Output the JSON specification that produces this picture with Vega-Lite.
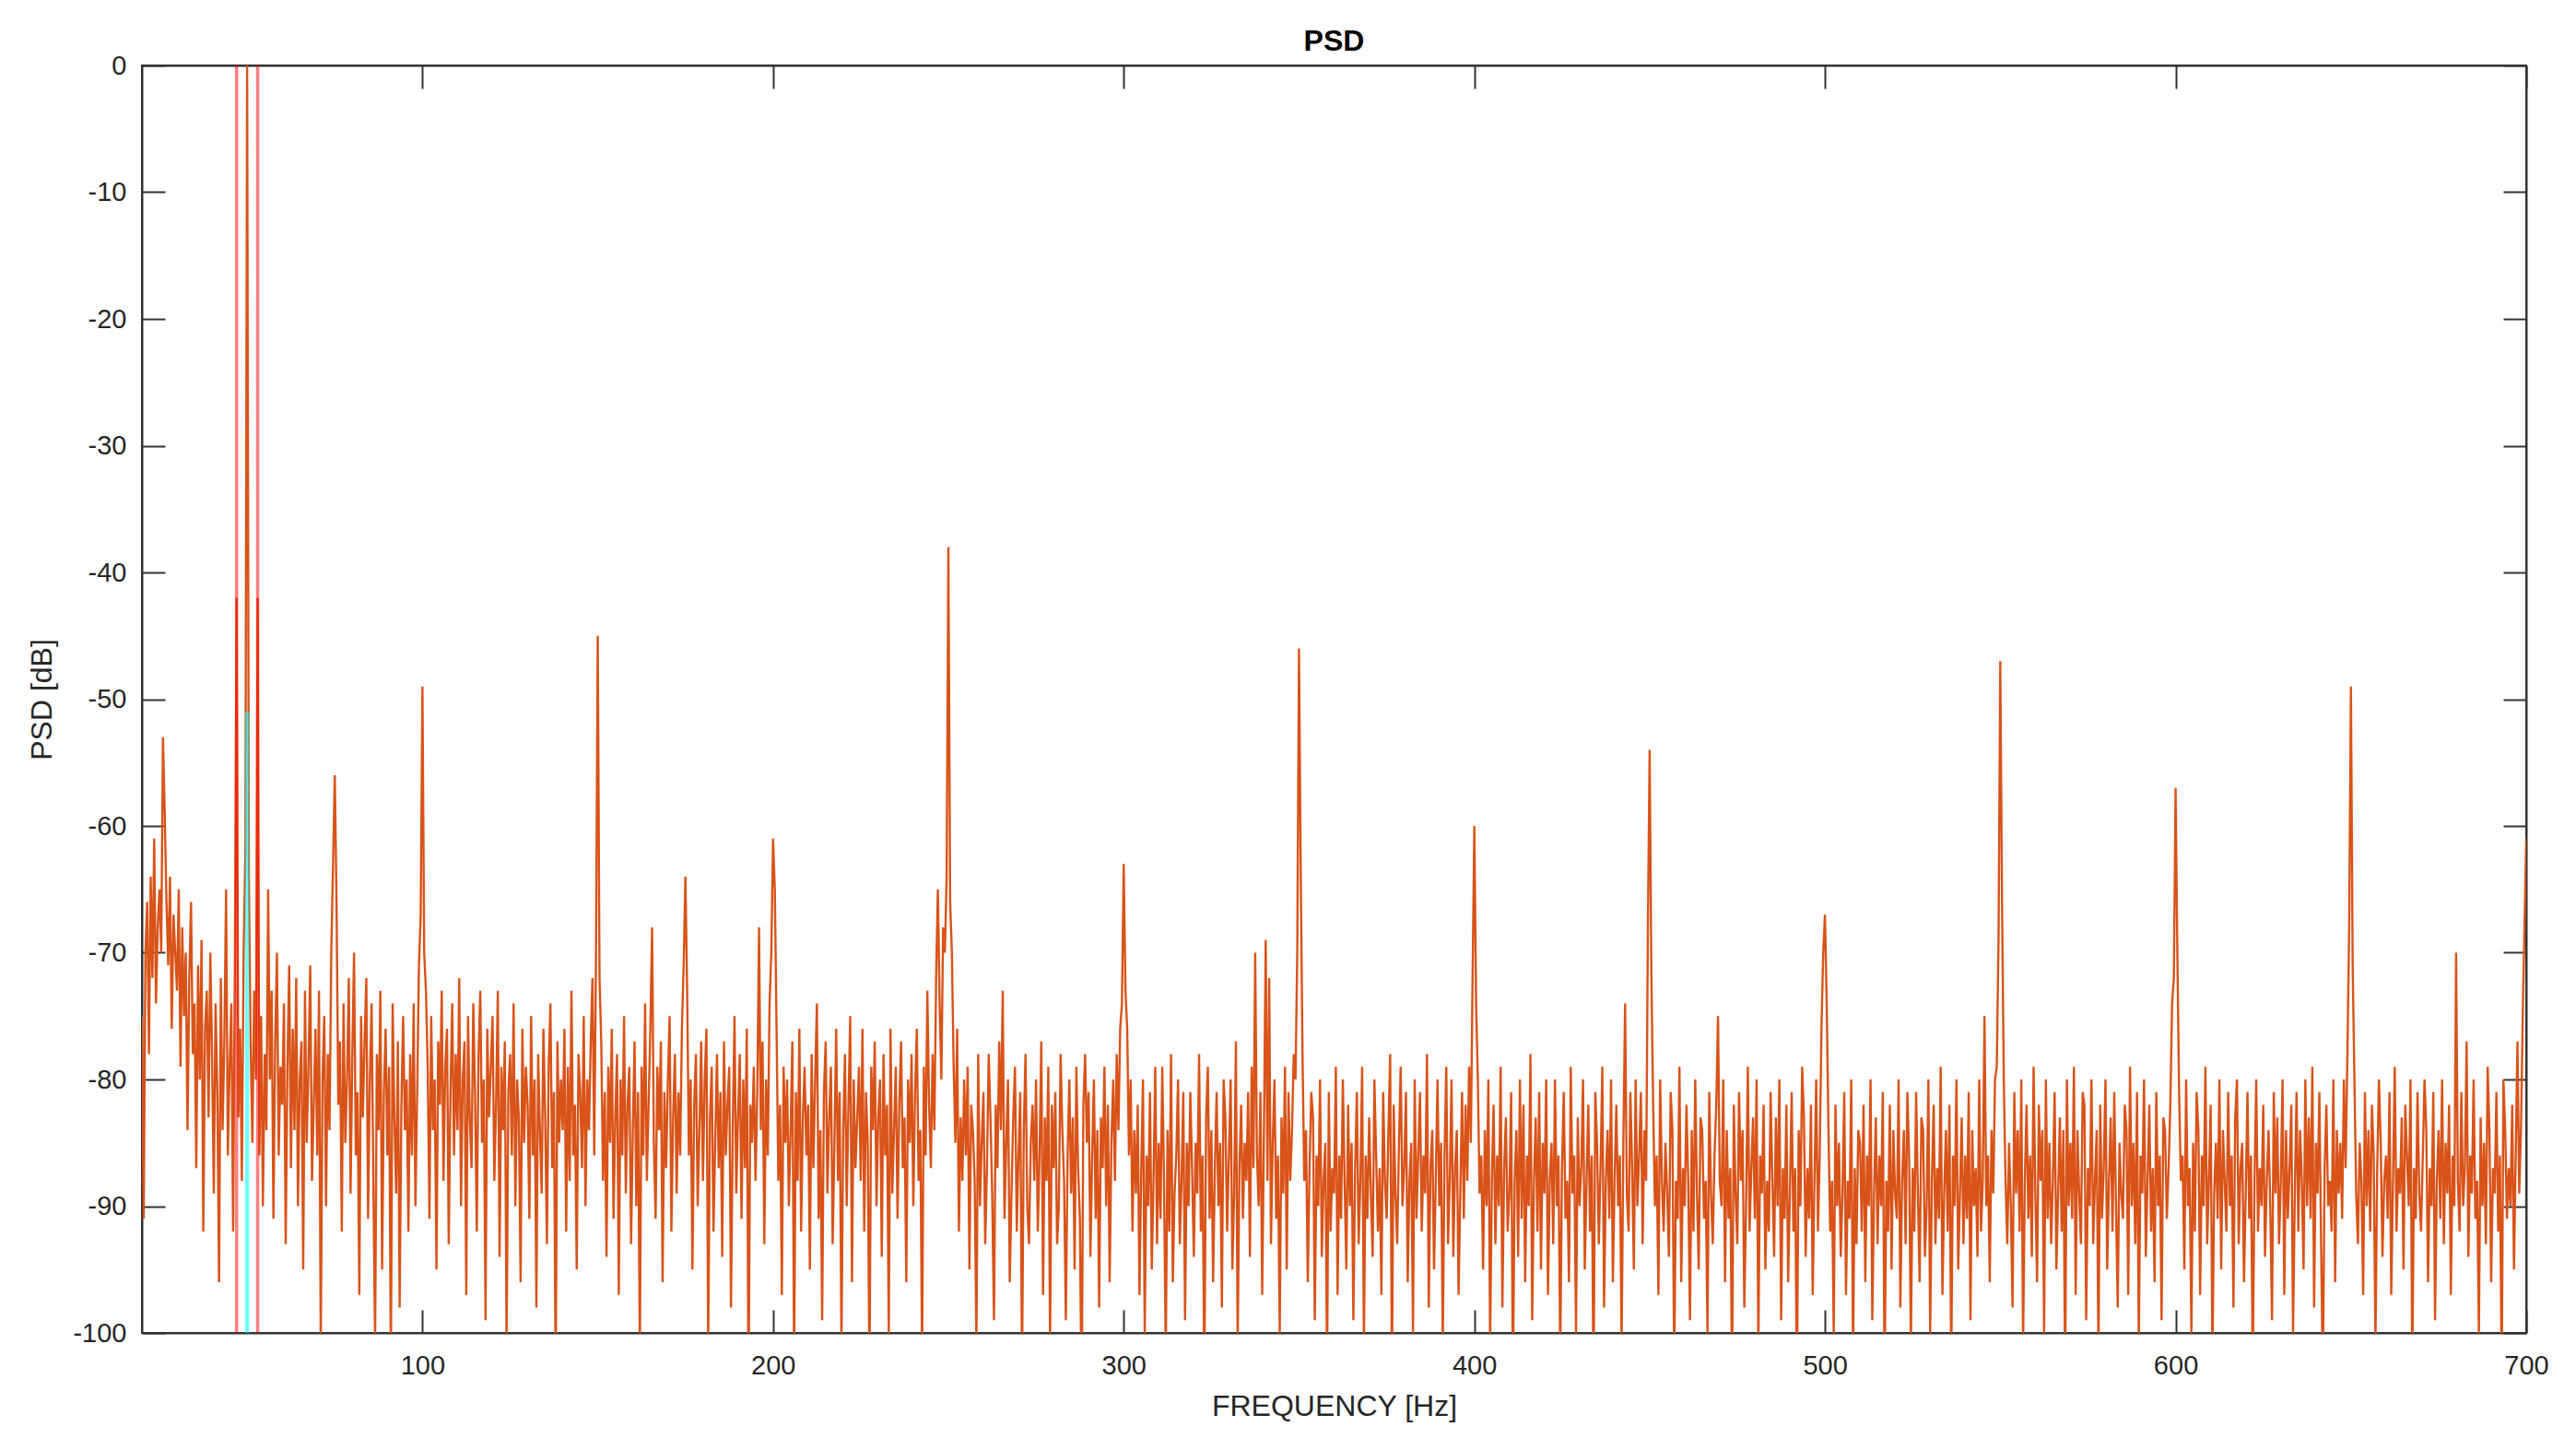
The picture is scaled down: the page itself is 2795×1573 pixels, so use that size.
{
"$schema":"https://vega.github.io/schema/vega-lite/v6.json",
"width":2587,"height":1375,
"autosize":{"type":"none"},
"padding":{"left":154,"top":71,"right":54,"bottom":127},
"background":"white",
"config":{"view":{"stroke":"#333333","strokeWidth":2},"font":"Liberation Sans",
"axis":{"grid":false,"domainColor":"#333333","domainWidth":2,"tickColor":"#333333","tickWidth":2,"tickSize":-25,"labelFont":"Liberation Sans","labelFontSize":29,"labelColor":"#262626","titleFont":"Liberation Sans","titleFontSize":32,"titleFontWeight":"normal","titleColor":"#262626","labelOverlap":false,"labelFlush":false}},
"title":{"text":"PSD","fontSize":32,"fontWeight":"bold","font":"Liberation Sans","color":"#000000","anchor":"middle","baseline":"alphabetic","offset":16,"dy":46},
"datasets":{
"refs":[{"f":47,"kind":"red","lo":-100,"hi":0},{"f":53,"kind":"red","lo":-100,"hi":0},{"f":50,"kind":"cyan","lo":-100,"hi":-51}],
"psd":[
{"f":20,"p":-75},{"f":20.5,"p":-91},{"f":21,"p":-70},{"f":21.5,"p":-66},{"f":22,"p":-78},{"f":22.5,"p":-64},{"f":23,"p":-72},{"f":23.5,"p":-61},{"f":24,"p":-74},{"f":24.5,"p":-68},
{"f":25,"p":-65},{"f":25.5,"p":-70},{"f":26,"p":-53},{"f":26.5,"p":-59},{"f":27,"p":-66},{"f":27.5,"p":-71},{"f":28,"p":-64},{"f":28.5,"p":-76},{"f":29,"p":-67},{"f":29.5,"p":-70},
{"f":30,"p":-73},{"f":30.5,"p":-65},{"f":31,"p":-79},{"f":31.5,"p":-68},{"f":32,"p":-75},{"f":32.5,"p":-70},{"f":33,"p":-84},{"f":33.5,"p":-72},{"f":34,"p":-66},{"f":34.5,"p":-78},
{"f":35,"p":-74},{"f":35.5,"p":-87},{"f":36,"p":-71},{"f":36.5,"p":-80},{"f":37,"p":-69},{"f":37.5,"p":-92},{"f":38,"p":-76},{"f":38.5,"p":-73},{"f":39,"p":-83},{"f":39.5,"p":-70},
{"f":40,"p":-78},{"f":40.5,"p":-89},{"f":41,"p":-74},{"f":41.5,"p":-81},{"f":42,"p":-96},{"f":42.5,"p":-72},{"f":43,"p":-84},{"f":43.5,"p":-77},{"f":44,"p":-65},{"f":44.5,"p":-86},
{"f":45,"p":-79},{"f":45.5,"p":-74},{"f":46,"p":-92},{"f":46.5,"p":-71},{"f":47,"p":-42},{"f":47.5,"p":-83},{"f":48,"p":-76},{"f":48.5,"p":-88},{"f":49,"p":-70},{"f":49.5,"p":-62},
{"f":50,"p":0},{"f":50.5,"p":-64},{"f":51,"p":-77},{"f":51.5,"p":-85},{"f":52,"p":-73},{"f":52.5,"p":-80},{"f":53,"p":-42},{"f":53.5,"p":-86},{"f":54,"p":-75},{"f":54.5,"p":-90},
{"f":55,"p":-78},{"f":55.5,"p":-84},{"f":56,"p":-65},{"f":56.5,"p":-80},{"f":57,"p":-73},{"f":57.5,"p":-91},{"f":58,"p":-77},{"f":58.5,"p":-70},{"f":59,"p":-86},{"f":59.5,"p":-79},
{"f":60,"p":-82},{"f":60.5,"p":-74},{"f":61,"p":-93},{"f":61.5,"p":-79},{"f":62,"p":-71},{"f":62.5,"p":-87},{"f":63,"p":-76},{"f":63.5,"p":-84},{"f":64,"p":-72},{"f":64.5,"p":-90},
{"f":65,"p":-80},{"f":65.5,"p":-77},{"f":66,"p":-95},{"f":66.5,"p":-73},{"f":67,"p":-85},{"f":67.5,"p":-79},{"f":68,"p":-71},{"f":68.5,"p":-88},{"f":69,"p":-82},{"f":69.5,"p":-76},
{"f":70,"p":-86},{"f":70.5,"p":-73},{"f":71,"p":-101},{"f":71.5,"p":-80},{"f":72,"p":-75},{"f":72.5,"p":-90},{"f":73,"p":-78},{"f":73.5,"p":-84},{"f":74,"p":-70},{"f":74.5,"p":-63},
{"f":75,"p":-56},{"f":75.5,"p":-66},{"f":76,"p":-82},{"f":76.5,"p":-77},{"f":77,"p":-92},{"f":77.5,"p":-74},{"f":78,"p":-85},{"f":78.5,"p":-80},{"f":79,"p":-72},{"f":79.5,"p":-89},
{"f":80,"p":-78},{"f":80.5,"p":-70},{"f":81,"p":-86},{"f":81.5,"p":-81},{"f":82,"p":-97},{"f":82.5,"p":-75},{"f":83,"p":-83},{"f":83.5,"p":-77},{"f":84,"p":-72},{"f":84.5,"p":-91},
{"f":85,"p":-80},{"f":85.5,"p":-74},{"f":86,"p":-88},{"f":86.5,"p":-101},{"f":87,"p":-78},{"f":87.5,"p":-84},{"f":88,"p":-73},{"f":88.5,"p":-95},{"f":89,"p":-81},{"f":89.5,"p":-76},
{"f":90,"p":-86},{"f":90.5,"p":-79},{"f":91,"p":-103},{"f":91.5,"p":-74},{"f":92,"p":-83},{"f":92.5,"p":-89},{"f":93,"p":-77},{"f":93.5,"p":-98},{"f":94,"p":-82},{"f":94.5,"p":-75},
{"f":95,"p":-84},{"f":95.5,"p":-80},{"f":96,"p":-92},{"f":96.5,"p":-78},{"f":97,"p":-86},{"f":97.5,"p":-74},{"f":98,"p":-90},{"f":98.5,"p":-81},{"f":99,"p":-71},{"f":99.5,"p":-67},
{"f":100,"p":-49},{"f":100.5,"p":-70},{"f":101,"p":-73},{"f":101.5,"p":-79},{"f":102,"p":-91},{"f":102.5,"p":-75},{"f":103,"p":-84},{"f":103.5,"p":-80},{"f":104,"p":-95},{"f":104.5,"p":-77},
{"f":105,"p":-82},{"f":105.5,"p":-73},{"f":106,"p":-88},{"f":106.5,"p":-79},{"f":107,"p":-76},{"f":107.5,"p":-93},{"f":108,"p":-81},{"f":108.5,"p":-74},{"f":109,"p":-86},{"f":109.5,"p":-78},
{"f":110,"p":-84},{"f":110.5,"p":-72},{"f":111,"p":-90},{"f":111.5,"p":-80},{"f":112,"p":-77},{"f":112.5,"p":-97},{"f":113,"p":-75},{"f":113.5,"p":-83},{"f":114,"p":-87},{"f":114.5,"p":-74},
{"f":115,"p":-81},{"f":115.5,"p":-92},{"f":116,"p":-78},{"f":116.5,"p":-73},{"f":117,"p":-85},{"f":117.5,"p":-80},{"f":118,"p":-99},{"f":118.5,"p":-76},{"f":119,"p":-83},{"f":119.5,"p":-79},
{"f":120,"p":-75},{"f":120.5,"p":-88},{"f":121,"p":-82},{"f":121.5,"p":-73},{"f":122,"p":-94},{"f":122.5,"p":-79},{"f":123,"p":-84},{"f":123.5,"p":-77},{"f":124,"p":-101},{"f":124.5,"p":-81},
{"f":125,"p":-78},{"f":125.5,"p":-86},{"f":126,"p":-74},{"f":126.5,"p":-90},{"f":127,"p":-80},{"f":127.5,"p":-83},{"f":128,"p":-96},{"f":128.5,"p":-76},{"f":129,"p":-85},{"f":129.5,"p":-79},
{"f":130,"p":-82},{"f":130.5,"p":-91},{"f":131,"p":-75},{"f":131.5,"p":-86},{"f":132,"p":-80},{"f":132.5,"p":-98},{"f":133,"p":-78},{"f":133.5,"p":-84},{"f":134,"p":-89},{"f":134.5,"p":-76},
{"f":135,"p":-83},{"f":135.5,"p":-93},{"f":136,"p":-79},{"f":136.5,"p":-74},{"f":137,"p":-87},{"f":137.5,"p":-81},{"f":138,"p":-104},{"f":138.5,"p":-77},{"f":139,"p":-85},{"f":139.5,"p":-80},
{"f":140,"p":-84},{"f":140.5,"p":-76},{"f":141,"p":-92},{"f":141.5,"p":-79},{"f":142,"p":-88},{"f":142.5,"p":-73},{"f":143,"p":-86},{"f":143.5,"p":-82},{"f":144,"p":-95},{"f":144.5,"p":-78},
{"f":145,"p":-81},{"f":145.5,"p":-87},{"f":146,"p":-75},{"f":146.5,"p":-90},{"f":147,"p":-80},{"f":147.5,"p":-84},{"f":148,"p":-77},{"f":148.5,"p":-72},{"f":149,"p":-86},{"f":149.5,"p":-70},
{"f":150,"p":-45},{"f":150.5,"p":-72},{"f":151,"p":-77},{"f":151.5,"p":-88},{"f":152,"p":-81},{"f":152.5,"p":-94},{"f":153,"p":-79},{"f":153.5,"p":-85},{"f":154,"p":-76},{"f":154.5,"p":-91},
{"f":155,"p":-83},{"f":155.5,"p":-78},{"f":156,"p":-97},{"f":156.5,"p":-80},{"f":157,"p":-86},{"f":157.5,"p":-75},{"f":158,"p":-89},{"f":158.5,"p":-82},{"f":159,"p":-79},{"f":159.5,"p":-93},
{"f":160,"p":-84},{"f":160.5,"p":-77},{"f":161,"p":-90},{"f":161.5,"p":-81},{"f":162,"p":-102},{"f":162.5,"p":-79},{"f":163,"p":-86},{"f":163.5,"p":-74},{"f":164,"p":-88},{"f":164.5,"p":-82},
{"f":165,"p":-76},{"f":165.5,"p":-68},{"f":166,"p":-85},{"f":166.5,"p":-91},{"f":167,"p":-79},{"f":167.5,"p":-84},{"f":168,"p":-77},{"f":168.5,"p":-96},{"f":169,"p":-81},{"f":169.5,"p":-87},
{"f":170,"p":-80},{"f":170.5,"p":-75},{"f":171,"p":-92},{"f":171.5,"p":-83},{"f":172,"p":-78},{"f":172.5,"p":-89},{"f":173,"p":-81},{"f":173.5,"p":-86},{"f":174,"p":-76},{"f":174.5,"p":-71},
{"f":175,"p":-64},{"f":175.5,"p":-73},{"f":176,"p":-86},{"f":176.5,"p":-80},{"f":177,"p":-95},{"f":177.5,"p":-82},{"f":178,"p":-78},{"f":178.5,"p":-90},{"f":179,"p":-84},{"f":179.5,"p":-77},
{"f":180,"p":-88},{"f":180.5,"p":-80},{"f":181,"p":-76},{"f":181.5,"p":-101},{"f":182,"p":-83},{"f":182.5,"p":-79},{"f":183,"p":-92},{"f":183.5,"p":-85},{"f":184,"p":-78},{"f":184.5,"p":-87},
{"f":185,"p":-81},{"f":185.5,"p":-94},{"f":186,"p":-77},{"f":186.5,"p":-86},{"f":187,"p":-82},{"f":187.5,"p":-79},{"f":188,"p":-98},{"f":188.5,"p":-84},{"f":189,"p":-75},{"f":189.5,"p":-89},
{"f":190,"p":-83},{"f":190.5,"p":-78},{"f":191,"p":-91},{"f":191.5,"p":-80},{"f":192,"p":-87},{"f":192.5,"p":-76},{"f":193,"p":-105},{"f":193.5,"p":-82},{"f":194,"p":-85},{"f":194.5,"p":-79},
{"f":195,"p":-88},{"f":195.5,"p":-81},{"f":196,"p":-68},{"f":196.5,"p":-84},{"f":197,"p":-77},{"f":197.5,"p":-93},{"f":198,"p":-80},{"f":198.5,"p":-86},{"f":199,"p":-74},{"f":199.5,"p":-70},
{"f":200,"p":-61},{"f":200.5,"p":-65},{"f":201,"p":-76},{"f":201.5,"p":-88},{"f":202,"p":-82},{"f":202.5,"p":-97},{"f":203,"p":-79},{"f":203.5,"p":-85},{"f":204,"p":-80},{"f":204.5,"p":-90},
{"f":205,"p":-84},{"f":205.5,"p":-77},{"f":206,"p":-103},{"f":206.5,"p":-81},{"f":207,"p":-88},{"f":207.5,"p":-76},{"f":208,"p":-92},{"f":208.5,"p":-83},{"f":209,"p":-79},{"f":209.5,"p":-86},
{"f":210,"p":-82},{"f":210.5,"p":-95},{"f":211,"p":-78},{"f":211.5,"p":-87},{"f":212,"p":-80},{"f":212.5,"p":-74},{"f":213,"p":-91},{"f":213.5,"p":-84},{"f":214,"p":-99},{"f":214.5,"p":-81},
{"f":215,"p":-77},{"f":215.5,"p":-89},{"f":216,"p":-83},{"f":216.5,"p":-79},{"f":217,"p":-93},{"f":217.5,"p":-85},{"f":218,"p":-76},{"f":218.5,"p":-88},{"f":219,"p":-81},{"f":219.5,"p":-101},
{"f":220,"p":-84},{"f":220.5,"p":-78},{"f":221,"p":-90},{"f":221.5,"p":-82},{"f":222,"p":-75},{"f":222.5,"p":-96},{"f":223,"p":-80},{"f":223.5,"p":-87},{"f":224,"p":-83},{"f":224.5,"p":-79},
{"f":225,"p":-88},{"f":225.5,"p":-76},{"f":226,"p":-92},{"f":226.5,"p":-81},{"f":227,"p":-85},{"f":227.5,"p":-104},{"f":228,"p":-79},{"f":228.5,"p":-84},{"f":229,"p":-77},{"f":229.5,"p":-90},
{"f":230,"p":-83},{"f":230.5,"p":-80},{"f":231,"p":-94},{"f":231.5,"p":-78},{"f":232,"p":-86},{"f":232.5,"p":-82},{"f":233,"p":-100},{"f":233.5,"p":-76},{"f":234,"p":-89},{"f":234.5,"p":-84},
{"f":235,"p":-79},{"f":235.5,"p":-91},{"f":236,"p":-82},{"f":236.5,"p":-77},{"f":237,"p":-87},{"f":237.5,"p":-83},{"f":238,"p":-96},{"f":238.5,"p":-80},{"f":239,"p":-85},{"f":239.5,"p":-78},
{"f":240,"p":-90},{"f":240.5,"p":-81},{"f":241,"p":-76},{"f":241.5,"p":-88},{"f":242,"p":-84},{"f":242.5,"p":-102},{"f":243,"p":-79},{"f":243.5,"p":-86},{"f":244,"p":-73},{"f":244.5,"p":-82},
{"f":245,"p":-87},{"f":245.5,"p":-78},{"f":246,"p":-84},{"f":246.5,"p":-72},{"f":247,"p":-65},{"f":247.5,"p":-74},{"f":248,"p":-80},{"f":248.5,"p":-68},{"f":249,"p":-70},{"f":249.5,"p":-64},
{"f":250,"p":-38},{"f":250.5,"p":-66},{"f":251,"p":-70},{"f":251.5,"p":-79},{"f":252,"p":-85},{"f":252.5,"p":-76},{"f":253,"p":-92},{"f":253.5,"p":-83},{"f":254,"p":-88},{"f":254.5,"p":-80},
{"f":255,"p":-86},{"f":255.5,"p":-79},{"f":256,"p":-95},{"f":256.5,"p":-82},{"f":257,"p":-84},{"f":257.5,"p":-88},{"f":258,"p":-101},{"f":258.5,"p":-78},{"f":259,"p":-90},{"f":259.5,"p":-85},
{"f":260,"p":-81},{"f":260.5,"p":-93},{"f":261,"p":-87},{"f":261.5,"p":-78},{"f":262,"p":-83},{"f":262.5,"p":-89},{"f":263,"p":-99},{"f":263.5,"p":-82},{"f":264,"p":-87},{"f":264.5,"p":-77},
{"f":265,"p":-84},{"f":265.5,"p":-73},{"f":266,"p":-91},{"f":266.5,"p":-85},{"f":267,"p":-80},{"f":267.5,"p":-96},{"f":268,"p":-89},{"f":268.5,"p":-83},{"f":269,"p":-79},{"f":269.5,"p":-92},
{"f":270,"p":-86},{"f":270.5,"p":-81},{"f":271,"p":-103},{"f":271.5,"p":-84},{"f":272,"p":-78},{"f":272.5,"p":-90},{"f":273,"p":-93},{"f":273.5,"p":-85},{"f":274,"p":-82},{"f":274.5,"p":-88},
{"f":275,"p":-80},{"f":275.5,"p":-92},{"f":276,"p":-86},{"f":276.5,"p":-77},{"f":277,"p":-97},{"f":277.5,"p":-83},{"f":278,"p":-88},{"f":278.5,"p":-79},{"f":279,"p":-101},{"f":279.5,"p":-82},
{"f":280,"p":-87},{"f":280.5,"p":-81},{"f":281,"p":-93},{"f":281.5,"p":-90},{"f":282,"p":-78},{"f":282.5,"p":-84},{"f":283,"p":-88},{"f":283.5,"p":-99},{"f":284,"p":-86},{"f":284.5,"p":-80},
{"f":285,"p":-89},{"f":285.5,"p":-83},{"f":286,"p":-95},{"f":286.5,"p":-79},{"f":287,"p":-87},{"f":287.5,"p":-91},{"f":288,"p":-106},{"f":288.5,"p":-82},{"f":289,"p":-78},{"f":289.5,"p":-85},
{"f":290,"p":-81},{"f":290.5,"p":-94},{"f":291,"p":-86},{"f":291.5,"p":-80},{"f":292,"p":-91},{"f":292.5,"p":-84},{"f":293,"p":-98},{"f":293.5,"p":-83},{"f":294,"p":-87},{"f":294.5,"p":-79},
{"f":295,"p":-90},{"f":295.5,"p":-82},{"f":296,"p":-96},{"f":296.5,"p":-85},{"f":297,"p":-80},{"f":297.5,"p":-88},{"f":298,"p":-78},{"f":298.5,"p":-84},{"f":299,"p":-76},{"f":299.5,"p":-74},
{"f":300,"p":-63},{"f":300.5,"p":-73},{"f":301,"p":-76},{"f":301.5,"p":-86},{"f":302,"p":-80},{"f":302.5,"p":-92},{"f":303,"p":-84},{"f":303.5,"p":-89},{"f":304,"p":-82},{"f":304.5,"p":-97},
{"f":305,"p":-87},{"f":305.5,"p":-80},{"f":306,"p":-100},{"f":306.5,"p":-86},{"f":307,"p":-90},{"f":307.5,"p":-81},{"f":308,"p":-95},{"f":308.5,"p":-88},{"f":309,"p":-79},{"f":309.5,"p":-93},
{"f":310,"p":-85},{"f":310.5,"p":-91},{"f":311,"p":-79},{"f":311.5,"p":-88},{"f":312,"p":-102},{"f":312.5,"p":-84},{"f":313,"p":-92},{"f":313.5,"p":-78},{"f":314,"p":-96},{"f":314.5,"p":-89},
{"f":315,"p":-86},{"f":315.5,"p":-80},{"f":316,"p":-93},{"f":316.5,"p":-88},{"f":317,"p":-81},{"f":317.5,"p":-99},{"f":318,"p":-85},{"f":318.5,"p":-90},{"f":319,"p":-81},{"f":319.5,"p":-87},
{"f":320,"p":-94},{"f":320.5,"p":-85},{"f":321,"p":-89},{"f":321.5,"p":-78},{"f":322,"p":-92},{"f":322.5,"p":-86},{"f":323,"p":-104},{"f":323.5,"p":-83},{"f":324,"p":-79},{"f":324.5,"p":-91},
{"f":325,"p":-84},{"f":325.5,"p":-96},{"f":326,"p":-87},{"f":326.5,"p":-81},{"f":327,"p":-90},{"f":327.5,"p":-85},{"f":328,"p":-98},{"f":328.5,"p":-80},{"f":329,"p":-83},{"f":329.5,"p":-92},
{"f":330,"p":-86},{"f":330.5,"p":-80},{"f":331,"p":-95},{"f":331.5,"p":-89},{"f":332,"p":-77},{"f":332.5,"p":-101},{"f":333,"p":-87},{"f":333.5,"p":-82},{"f":334,"p":-91},{"f":334.5,"p":-85},
{"f":335,"p":-88},{"f":335.5,"p":-81},{"f":336,"p":-94},{"f":336.5,"p":-79},{"f":337,"p":-87},{"f":337.5,"p":-70},{"f":338,"p":-86},{"f":338.5,"p":-90},{"f":339,"p":-81},{"f":339.5,"p":-97},
{"f":340,"p":-84},{"f":340.5,"p":-69},{"f":341,"p":-88},{"f":341.5,"p":-72},{"f":342,"p":-93},{"f":342.5,"p":-85},{"f":343,"p":-80},{"f":343.5,"p":-91},{"f":344,"p":-86},{"f":344.5,"p":-100},
{"f":345,"p":-83},{"f":345.5,"p":-89},{"f":346,"p":-79},{"f":346.5,"p":-95},{"f":347,"p":-81},{"f":347.5,"p":-88},{"f":348,"p":-84},{"f":348.5,"p":-78},{"f":349,"p":-80},{"f":349.5,"p":-70},
{"f":350,"p":-46},{"f":350.5,"p":-64},{"f":351,"p":-78},{"f":351.5,"p":-88},{"f":352,"p":-84},{"f":352.5,"p":-96},{"f":353,"p":-87},{"f":353.5,"p":-81},{"f":354,"p":-83},{"f":354.5,"p":-99},
{"f":355,"p":-86},{"f":355.5,"p":-90},{"f":356,"p":-80},{"f":356.5,"p":-94},{"f":357,"p":-88},{"f":357.5,"p":-85},{"f":358,"p":-103},{"f":358.5,"p":-81},{"f":359,"p":-92},{"f":359.5,"p":-87},
{"f":360,"p":-89},{"f":360.5,"p":-79},{"f":361,"p":-97},{"f":361.5,"p":-86},{"f":362,"p":-91},{"f":362.5,"p":-80},{"f":363,"p":-88},{"f":363.5,"p":-95},{"f":364,"p":-82},{"f":364.5,"p":-90},
{"f":365,"p":-85},{"f":365.5,"p":-99},{"f":366,"p":-87},{"f":366.5,"p":-81},{"f":367,"p":-93},{"f":367.5,"p":-88},{"f":368,"p":-79},{"f":368.5,"p":-101},{"f":369,"p":-86},{"f":369.5,"p":-91},
{"f":370,"p":-83},{"f":370.5,"p":-89},{"f":371,"p":-94},{"f":371.5,"p":-80},{"f":372,"p":-86},{"f":372.5,"p":-92},{"f":373,"p":-87},{"f":373.5,"p":-97},{"f":374,"p":-81},{"f":374.5,"p":-88},
{"f":375,"p":-91},{"f":375.5,"p":-84},{"f":376,"p":-78},{"f":376.5,"p":-104},{"f":377,"p":-82},{"f":377.5,"p":-89},{"f":378,"p":-93},{"f":378.5,"p":-85},{"f":379,"p":-79},{"f":379.5,"p":-90},
{"f":380,"p":-87},{"f":380.5,"p":-81},{"f":381,"p":-96},{"f":381.5,"p":-88},{"f":382,"p":-85},{"f":382.5,"p":-100},{"f":383,"p":-80},{"f":383.5,"p":-91},{"f":384,"p":-86},{"f":384.5,"p":-81},
{"f":385,"p":-92},{"f":385.5,"p":-86},{"f":386,"p":-89},{"f":386.5,"p":-78},{"f":387,"p":-98},{"f":387.5,"p":-87},{"f":388,"p":-84},{"f":388.5,"p":-95},{"f":389,"p":-88},{"f":389.5,"p":-80},
{"f":390,"p":-90},{"f":390.5,"p":-85},{"f":391,"p":-101},{"f":391.5,"p":-86},{"f":392,"p":-79},{"f":392.5,"p":-93},{"f":393,"p":-88},{"f":393.5,"p":-80},{"f":394,"p":-94},{"f":394.5,"p":-87},
{"f":395,"p":-84},{"f":395.5,"p":-97},{"f":396,"p":-89},{"f":396.5,"p":-81},{"f":397,"p":-91},{"f":397.5,"p":-82},{"f":398,"p":-88},{"f":398.5,"p":-79},{"f":399,"p":-85},{"f":399.5,"p":-72},
{"f":400,"p":-60},{"f":400.5,"p":-74},{"f":401,"p":-80},{"f":401.5,"p":-89},{"f":402,"p":-86},{"f":402.5,"p":-95},{"f":403,"p":-84},{"f":403.5,"p":-90},{"f":404,"p":-80},{"f":404.5,"p":-101},
{"f":405,"p":-88},{"f":405.5,"p":-82},{"f":406,"p":-93},{"f":406.5,"p":-86},{"f":407,"p":-90},{"f":407.5,"p":-79},{"f":408,"p":-98},{"f":408.5,"p":-87},{"f":409,"p":-83},{"f":409.5,"p":-92},
{"f":410,"p":-89},{"f":410.5,"p":-81},{"f":411,"p":-104},{"f":411.5,"p":-88},{"f":412,"p":-84},{"f":412.5,"p":-94},{"f":413,"p":-80},{"f":413.5,"p":-91},{"f":414,"p":-82},{"f":414.5,"p":-96},
{"f":415,"p":-86},{"f":415.5,"p":-90},{"f":416,"p":-78},{"f":416.5,"p":-99},{"f":417,"p":-88},{"f":417.5,"p":-83},{"f":418,"p":-92},{"f":418.5,"p":-81},{"f":419,"p":-95},{"f":419.5,"p":-85},
{"f":420,"p":-89},{"f":420.5,"p":-80},{"f":421,"p":-97},{"f":421.5,"p":-88},{"f":422,"p":-85},{"f":422.5,"p":-93},{"f":423,"p":-80},{"f":423.5,"p":-90},{"f":424,"p":-86},{"f":424.5,"p":-102},
{"f":425,"p":-87},{"f":425.5,"p":-81},{"f":426,"p":-91},{"f":426.5,"p":-88},{"f":427,"p":-96},{"f":427.5,"p":-79},{"f":428,"p":-89},{"f":428.5,"p":-86},{"f":429,"p":-100},{"f":429.5,"p":-83},
{"f":430,"p":-90},{"f":430.5,"p":-87},{"f":431,"p":-80},{"f":431.5,"p":-95},{"f":432,"p":-88},{"f":432.5,"p":-82},{"f":433,"p":-92},{"f":433.5,"p":-86},{"f":434,"p":-105},{"f":434.5,"p":-81},
{"f":435,"p":-85},{"f":435.5,"p":-93},{"f":436,"p":-87},{"f":436.5,"p":-79},{"f":437,"p":-98},{"f":437.5,"p":-88},{"f":438,"p":-84},{"f":438.5,"p":-91},{"f":439,"p":-80},{"f":439.5,"p":-96},
{"f":440,"p":-88},{"f":440.5,"p":-82},{"f":441,"p":-90},{"f":441.5,"p":-86},{"f":442,"p":-101},{"f":442.5,"p":-85},{"f":443,"p":-74},{"f":443.5,"p":-89},{"f":444,"p":-92},{"f":444.5,"p":-81},
{"f":445,"p":-87},{"f":445.5,"p":-95},{"f":446,"p":-80},{"f":446.5,"p":-90},{"f":447,"p":-86},{"f":447.5,"p":-81},{"f":448,"p":-93},{"f":448.5,"p":-84},{"f":449,"p":-88},{"f":449.5,"p":-68},
{"f":450,"p":-54},{"f":450.5,"p":-72},{"f":451,"p":-82},{"f":451.5,"p":-90},{"f":452,"p":-86},{"f":452.5,"p":-97},{"f":453,"p":-80},{"f":453.5,"p":-88},{"f":454,"p":-92},{"f":454.5,"p":-85},
{"f":455,"p":-89},{"f":455.5,"p":-94},{"f":456,"p":-81},{"f":456.5,"p":-84},{"f":457,"p":-103},{"f":457.5,"p":-88},{"f":458,"p":-91},{"f":458.5,"p":-79},{"f":459,"p":-96},{"f":459.5,"p":-87},
{"f":460,"p":-90},{"f":460.5,"p":-82},{"f":461,"p":-88},{"f":461.5,"p":-99},{"f":462,"p":-84},{"f":462.5,"p":-92},{"f":463,"p":-80},{"f":463.5,"p":-89},{"f":464,"p":-95},{"f":464.5,"p":-83},
{"f":465,"p":-84},{"f":465.5,"p":-91},{"f":466,"p":-88},{"f":466.5,"p":-100},{"f":467,"p":-81},{"f":467.5,"p":-89},{"f":468,"p":-93},{"f":468.5,"p":-86},{"f":469,"p":-82},{"f":469.5,"p":-75},
{"f":470,"p":-88},{"f":470.5,"p":-90},{"f":471,"p":-80},{"f":471.5,"p":-96},{"f":472,"p":-84},{"f":472.5,"p":-91},{"f":473,"p":-87},{"f":473.5,"p":-104},{"f":474,"p":-82},{"f":474.5,"p":-89},
{"f":475,"p":-93},{"f":475.5,"p":-81},{"f":476,"p":-88},{"f":476.5,"p":-84},{"f":477,"p":-98},{"f":477.5,"p":-90},{"f":478,"p":-79},{"f":478.5,"p":-92},{"f":479,"p":-87},{"f":479.5,"p":-83},
{"f":480,"p":-91},{"f":480.5,"p":-80},{"f":481,"p":-101},{"f":481.5,"p":-86},{"f":482,"p":-89},{"f":482.5,"p":-82},{"f":483,"p":-95},{"f":483.5,"p":-88},{"f":484,"p":-92},{"f":484.5,"p":-81},
{"f":485,"p":-88},{"f":485.5,"p":-94},{"f":486,"p":-83},{"f":486.5,"p":-90},{"f":487,"p":-80},{"f":487.5,"p":-99},{"f":488,"p":-87},{"f":488.5,"p":-91},{"f":489,"p":-82},{"f":489.5,"p":-96},
{"f":490,"p":-89},{"f":490.5,"p":-81},{"f":491,"p":-92},{"f":491.5,"p":-87},{"f":492,"p":-105},{"f":492.5,"p":-84},{"f":493,"p":-90},{"f":493.5,"p":-79},{"f":494,"p":-83},{"f":494.5,"p":-94},
{"f":495,"p":-87},{"f":495.5,"p":-91},{"f":496,"p":-82},{"f":496.5,"p":-97},{"f":497,"p":-88},{"f":497.5,"p":-80},{"f":498,"p":-92},{"f":498.5,"p":-86},{"f":499,"p":-76},{"f":499.5,"p":-70},
{"f":500,"p":-67},{"f":500.5,"p":-74},{"f":501,"p":-84},{"f":501.5,"p":-92},{"f":502,"p":-88},{"f":502.5,"p":-100},{"f":503,"p":-82},{"f":503.5,"p":-90},{"f":504,"p":-85},{"f":504.5,"p":-94},
{"f":505,"p":-89},{"f":505.5,"p":-81},{"f":506,"p":-97},{"f":506.5,"p":-88},{"f":507,"p":-91},{"f":507.5,"p":-80},{"f":508,"p":-102},{"f":508.5,"p":-87},{"f":509,"p":-93},{"f":509.5,"p":-84},
{"f":510,"p":-85},{"f":510.5,"p":-92},{"f":511,"p":-82},{"f":511.5,"p":-96},{"f":512,"p":-86},{"f":512.5,"p":-90},{"f":513,"p":-80},{"f":513.5,"p":-99},{"f":514,"p":-89},{"f":514.5,"p":-83},
{"f":515,"p":-93},{"f":515.5,"p":-86},{"f":516,"p":-90},{"f":516.5,"p":-81},{"f":517,"p":-104},{"f":517.5,"p":-88},{"f":518,"p":-92},{"f":518.5,"p":-82},{"f":519,"p":-95},{"f":519.5,"p":-84},
{"f":520,"p":-89},{"f":520.5,"p":-91},{"f":521,"p":-80},{"f":521.5,"p":-98},{"f":522,"p":-88},{"f":522.5,"p":-84},{"f":523,"p":-93},{"f":523.5,"p":-81},{"f":524,"p":-86},{"f":524.5,"p":-101},
{"f":525,"p":-87},{"f":525.5,"p":-92},{"f":526,"p":-81},{"f":526.5,"p":-89},{"f":527,"p":-96},{"f":527.5,"p":-83},{"f":528,"p":-84},{"f":528.5,"p":-94},{"f":529,"p":-90},{"f":529.5,"p":-80},
{"f":530,"p":-100},{"f":530.5,"p":-88},{"f":531,"p":-82},{"f":531.5,"p":-93},{"f":532,"p":-87},{"f":532.5,"p":-91},{"f":533,"p":-79},{"f":533.5,"p":-97},{"f":534,"p":-89},{"f":534.5,"p":-84},
{"f":535,"p":-92},{"f":535.5,"p":-82},{"f":536,"p":-103},{"f":536.5,"p":-86},{"f":537,"p":-90},{"f":537.5,"p":-80},{"f":538,"p":-95},{"f":538.5,"p":-89},{"f":539,"p":-83},{"f":539.5,"p":-93},
{"f":540,"p":-86},{"f":540.5,"p":-91},{"f":541,"p":-81},{"f":541.5,"p":-99},{"f":542,"p":-84},{"f":542.5,"p":-90},{"f":543,"p":-87},{"f":543.5,"p":-94},{"f":544,"p":-80},{"f":544.5,"p":-92},
{"f":545,"p":-88},{"f":545.5,"p":-75},{"f":546,"p":-90},{"f":546.5,"p":-86},{"f":547,"p":-96},{"f":547.5,"p":-84},{"f":548,"p":-89},{"f":548.5,"p":-80},{"f":549,"p":-79},{"f":549.5,"p":-69},
{"f":550,"p":-47},{"f":550.5,"p":-66},{"f":551,"p":-80},{"f":551.5,"p":-88},{"f":552,"p":-93},{"f":552.5,"p":-85},{"f":553,"p":-90},{"f":553.5,"p":-98},{"f":554,"p":-81},{"f":554.5,"p":-89},
{"f":555,"p":-84},{"f":555.5,"p":-92},{"f":556,"p":-80},{"f":556.5,"p":-101},{"f":557,"p":-88},{"f":557.5,"p":-82},{"f":558,"p":-91},{"f":558.5,"p":-86},{"f":559,"p":-94},{"f":559.5,"p":-79},
{"f":560,"p":-89},{"f":560.5,"p":-96},{"f":561,"p":-82},{"f":561.5,"p":-88},{"f":562,"p":-84},{"f":562.5,"p":-100},{"f":563,"p":-80},{"f":563.5,"p":-91},{"f":564,"p":-85},{"f":564.5,"p":-93},
{"f":565,"p":-88},{"f":565.5,"p":-81},{"f":566,"p":-95},{"f":566.5,"p":-89},{"f":567,"p":-83},{"f":567.5,"p":-92},{"f":568,"p":-84},{"f":568.5,"p":-104},{"f":569,"p":-80},{"f":569.5,"p":-90},
{"f":570,"p":-85},{"f":570.5,"p":-91},{"f":571,"p":-79},{"f":571.5,"p":-97},{"f":572,"p":-84},{"f":572.5,"p":-89},{"f":573,"p":-93},{"f":573.5,"p":-81},{"f":574,"p":-82},{"f":574.5,"p":-99},
{"f":575,"p":-87},{"f":575.5,"p":-90},{"f":576,"p":-80},{"f":576.5,"p":-93},{"f":577,"p":-88},{"f":577.5,"p":-84},{"f":578,"p":-102},{"f":578.5,"p":-82},{"f":579,"p":-91},{"f":579.5,"p":-87},
{"f":580,"p":-80},{"f":580.5,"p":-95},{"f":581,"p":-88},{"f":581.5,"p":-83},{"f":582,"p":-92},{"f":582.5,"p":-81},{"f":583,"p":-90},{"f":583.5,"p":-98},{"f":584,"p":-85},{"f":584.5,"p":-89},
{"f":585,"p":-91},{"f":585.5,"p":-82},{"f":586,"p":-84},{"f":586.5,"p":-97},{"f":587,"p":-79},{"f":587.5,"p":-90},{"f":588,"p":-85},{"f":588.5,"p":-93},{"f":589,"p":-81},{"f":589.5,"p":-101},
{"f":590,"p":-86},{"f":590.5,"p":-89},{"f":591,"p":-80},{"f":591.5,"p":-94},{"f":592,"p":-88},{"f":592.5,"p":-82},{"f":593,"p":-92},{"f":593.5,"p":-87},{"f":594,"p":-96},{"f":594.5,"p":-81},
{"f":595,"p":-90},{"f":595.5,"p":-86},{"f":596,"p":-99},{"f":596.5,"p":-83},{"f":597,"p":-84},{"f":597.5,"p":-91},{"f":598,"p":-87},{"f":598.5,"p":-82},{"f":599,"p":-74},{"f":599.5,"p":-72},
{"f":600,"p":-57},{"f":600.5,"p":-70},{"f":601,"p":-81},{"f":601.5,"p":-88},{"f":602,"p":-86},{"f":602.5,"p":-95},{"f":603,"p":-80},{"f":603.5,"p":-90},{"f":604,"p":-87},{"f":604.5,"p":-100},
{"f":605,"p":-85},{"f":605.5,"p":-92},{"f":606,"p":-81},{"f":606.5,"p":-84},{"f":607,"p":-97},{"f":607.5,"p":-86},{"f":608,"p":-90},{"f":608.5,"p":-79},{"f":609,"p":-93},{"f":609.5,"p":-88},
{"f":610,"p":-82},{"f":610.5,"p":-102},{"f":611,"p":-89},{"f":611.5,"p":-85},{"f":612,"p":-91},{"f":612.5,"p":-80},{"f":613,"p":-95},{"f":613.5,"p":-84},{"f":614,"p":-88},{"f":614.5,"p":-92},
{"f":615,"p":-81},{"f":615.5,"p":-90},{"f":616,"p":-86},{"f":616.5,"p":-98},{"f":617,"p":-83},{"f":617.5,"p":-80},{"f":618,"p":-93},{"f":618.5,"p":-87},{"f":619,"p":-85},{"f":619.5,"p":-96},
{"f":620,"p":-89},{"f":620.5,"p":-81},{"f":621,"p":-91},{"f":621.5,"p":-86},{"f":622,"p":-103},{"f":622.5,"p":-88},{"f":623,"p":-80},{"f":623.5,"p":-92},{"f":624,"p":-87},{"f":624.5,"p":-90},
{"f":625,"p":-82},{"f":625.5,"p":-94},{"f":626,"p":-88},{"f":626.5,"p":-84},{"f":627,"p":-90},{"f":627.5,"p":-99},{"f":628,"p":-81},{"f":628.5,"p":-89},{"f":629,"p":-83},{"f":629.5,"p":-93},
{"f":630,"p":-88},{"f":630.5,"p":-80},{"f":631,"p":-97},{"f":631.5,"p":-84},{"f":632,"p":-91},{"f":632.5,"p":-87},{"f":633,"p":-82},{"f":633.5,"p":-100},{"f":634,"p":-89},{"f":634.5,"p":-81},
{"f":635,"p":-92},{"f":635.5,"p":-84},{"f":636,"p":-88},{"f":636.5,"p":-95},{"f":637,"p":-80},{"f":637.5,"p":-90},{"f":638,"p":-83},{"f":638.5,"p":-91},{"f":639,"p":-79},{"f":639.5,"p":-98},
{"f":640,"p":-85},{"f":640.5,"p":-89},{"f":641,"p":-81},{"f":641.5,"p":-93},{"f":642,"p":-104},{"f":642.5,"p":-87},{"f":643,"p":-82},{"f":643.5,"p":-90},{"f":644,"p":-88},{"f":644.5,"p":-92},
{"f":645,"p":-80},{"f":645.5,"p":-96},{"f":646,"p":-84},{"f":646.5,"p":-89},{"f":647,"p":-85},{"f":647.5,"p":-91},{"f":648,"p":-80},{"f":648.5,"p":-87},{"f":649,"p":-78},{"f":649.5,"p":-68},
{"f":650,"p":-49},{"f":650.5,"p":-71},{"f":651,"p":-80},{"f":651.5,"p":-89},{"f":652,"p":-93},{"f":652.5,"p":-85},{"f":653,"p":-88},{"f":653.5,"p":-97},{"f":654,"p":-81},{"f":654.5,"p":-90},
{"f":655,"p":-84},{"f":655.5,"p":-92},{"f":656,"p":-82},{"f":656.5,"p":-86},{"f":657,"p":-101},{"f":657.5,"p":-87},{"f":658,"p":-80},{"f":658.5,"p":-85},{"f":659,"p":-94},{"f":659.5,"p":-88},
{"f":660,"p":-86},{"f":660.5,"p":-91},{"f":661,"p":-81},{"f":661.5,"p":-97},{"f":662,"p":-88},{"f":662.5,"p":-79},{"f":663,"p":-92},{"f":663.5,"p":-87},{"f":664,"p":-89},{"f":664.5,"p":-83},
{"f":665,"p":-95},{"f":665.5,"p":-82},{"f":666,"p":-86},{"f":666.5,"p":-90},{"f":667,"p":-80},{"f":667.5,"p":-103},{"f":668,"p":-87},{"f":668.5,"p":-91},{"f":669,"p":-81},{"f":669.5,"p":-89},
{"f":670,"p":-92},{"f":670.5,"p":-86},{"f":671,"p":-80},{"f":671.5,"p":-84},{"f":672,"p":-96},{"f":672.5,"p":-87},{"f":673,"p":-90},{"f":673.5,"p":-81},{"f":674,"p":-99},{"f":674.5,"p":-88},
{"f":675,"p":-84},{"f":675.5,"p":-91},{"f":676,"p":-80},{"f":676.5,"p":-93},{"f":677,"p":-85},{"f":677.5,"p":-89},{"f":678,"p":-82},{"f":678.5,"p":-97},{"f":679,"p":-86},{"f":679.5,"p":-90},
{"f":680,"p":-70},{"f":680.5,"p":-88},{"f":681,"p":-92},{"f":681.5,"p":-81},{"f":682,"p":-90},{"f":682.5,"p":-87},{"f":683,"p":-77},{"f":683.5,"p":-94},{"f":684,"p":-86},{"f":684.5,"p":-89},
{"f":685,"p":-80},{"f":685.5,"p":-91},{"f":686,"p":-88},{"f":686.5,"p":-100},{"f":687,"p":-83},{"f":687.5,"p":-90},{"f":688,"p":-85},{"f":688.5,"p":-93},{"f":689,"p":-79},{"f":689.5,"p":-84},
{"f":690,"p":-96},{"f":690.5,"p":-87},{"f":691,"p":-89},{"f":691.5,"p":-81},{"f":692,"p":-92},{"f":692.5,"p":-86},{"f":693,"p":-104},{"f":693.5,"p":-80},{"f":694,"p":-84},{"f":694.5,"p":-91},
{"f":695,"p":-87},{"f":695.5,"p":-90},{"f":696,"p":-82},{"f":696.5,"p":-95},{"f":697,"p":-86},{"f":697.5,"p":-77},{"f":698,"p":-89},{"f":698.5,"p":-84},{"f":699,"p":-75},{"f":699.5,"p":-68},
{"f":700,"p":-61}
]},
"layer":[
{"data":{"name":"psd"},
"mark":{"type":"line","color":"#D95319","strokeWidth":2.4,"clip":true},
"encoding":{
"x":{"field":"f","type":"quantitative","scale":{"domain":[20,700],"nice":false,"zero":false},
"axis":{"orient":"bottom","values":[100,200,300,400,500,600,700],"title":"FREQUENCY [Hz]","labelPadding":46,"titlePadding":14}},
"y":{"field":"p","type":"quantitative","scale":{"domain":[-100,0],"nice":false,"zero":false},
"axis":{"orient":"left","values":[-100,-90,-80,-70,-60,-50,-40,-30,-20,-10,0],"labelExpr":"toString(datum.value)","title":"PSD [dB]","labelPadding":42,"titlePadding":16}}}},
{"data":{"name":"refs"},"transform":[{"filter":"datum.kind == 'red'"}],
"mark":{"type":"rule","color":"#FF0000","opacity":0.5,"strokeWidth":3.5,"clip":true},
"encoding":{
"x":{"field":"f","type":"quantitative","scale":{"domain":[20,700],"nice":false,"zero":false},
"axis":{"orient":"top","values":[100,200,300,400,500,600,700],"labels":false,"title":null}},
"y":{"field":"lo","type":"quantitative","scale":{"domain":[-100,0],"nice":false,"zero":false},
"axis":{"orient":"right","values":[-100,-90,-80,-70,-60,-50,-40,-30,-20,-10,0],"labels":false,"title":null}},
"y2":{"field":"hi"}}},
{"data":{"name":"refs"},"transform":[{"filter":"datum.kind == 'cyan'"}],
"mark":{"type":"rule","color":"#00FFFF","opacity":0.55,"strokeWidth":4.5,"clip":true},
"encoding":{
"x":{"field":"f","type":"quantitative","scale":{"domain":[20,700],"nice":false,"zero":false},"axis":null},
"y":{"field":"lo","type":"quantitative","scale":{"domain":[-100,0],"nice":false,"zero":false},"axis":null},
"y2":{"field":"hi"}}}
],
"resolve":{"axis":{"x":"independent","y":"independent"}}
}
